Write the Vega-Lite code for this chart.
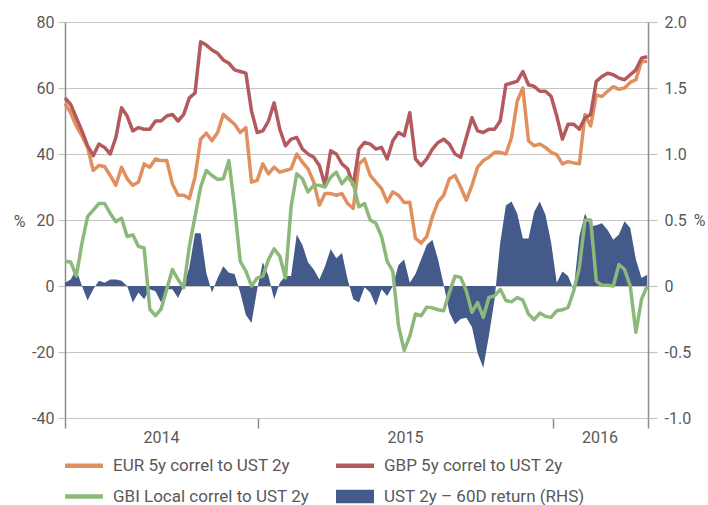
{
 "$schema": "https://vega.github.io/schema/vega-lite/v6.json",
 "width": 583, "height": 396,
 "autosize": {"type": "none"},
 "padding": {"left": 65, "top": 22, "right": 60, "bottom": 87},
 "background": "white",
 "config": {
  "view": {"stroke": null},
  "font": "Roboto",
  "axis": {"labelFont": "Roboto", "labelFontSize": 16, "labelColor": "#595959", "titleFont": "Roboto", "titleFontSize": 16, "titleColor": "#595959", "titleFontWeight": "normal", "labelFlush": false, "labelOverlap": false}
 },
 "data": {"values": [
  {"d":"2014-05-07","EUR":55.3,"GBP":57,"GBI":7.5,"UST":0.025},
  {"d":"2014-05-14","EUR":52.5,"GBP":55,"GBI":7.3,"UST":0.05},
  {"d":"2014-05-21","EUR":48.5,"GBP":51,"GBI":3,"UST":0.125},
  {"d":"2014-05-28","EUR":45.5,"GBP":47,"GBI":13,"UST":0},
  {"d":"2014-06-04","EUR":42,"GBP":42.5,"GBI":21,"UST":-0.11},
  {"d":"2014-06-11","EUR":35,"GBP":39.5,"GBI":23,"UST":-0.025},
  {"d":"2014-06-18","EUR":36.5,"GBP":43,"GBI":25,"UST":0.04},
  {"d":"2014-06-25","EUR":36.2,"GBP":42,"GBI":25,"UST":0.025},
  {"d":"2014-07-02","EUR":33.5,"GBP":40,"GBI":22,"UST":0.05},
  {"d":"2014-07-09","EUR":30.5,"GBP":45,"GBI":19.5,"UST":0.05},
  {"d":"2014-07-16","EUR":36,"GBP":54,"GBI":20.5,"UST":0.04},
  {"d":"2014-07-23","EUR":32.5,"GBP":51.5,"GBI":15,"UST":0},
  {"d":"2014-07-30","EUR":30.5,"GBP":47,"GBI":15.5,"UST":-0.125},
  {"d":"2014-08-06","EUR":31.5,"GBP":48,"GBI":12,"UST":-0.05},
  {"d":"2014-08-13","EUR":37,"GBP":47.5,"GBI":11.5,"UST":-0.1},
  {"d":"2014-08-20","EUR":36,"GBP":47.5,"GBI":-7,"UST":-0.025},
  {"d":"2014-08-27","EUR":38.5,"GBP":50,"GBI":-9,"UST":-0.04},
  {"d":"2014-09-03","EUR":38,"GBP":50,"GBI":-7,"UST":-0.125},
  {"d":"2014-09-10","EUR":38,"GBP":51.5,"GBI":-1,"UST":-0.025},
  {"d":"2014-09-17","EUR":31,"GBP":52,"GBI":5,"UST":-0.025},
  {"d":"2014-09-24","EUR":27.5,"GBP":50,"GBI":2,"UST":-0.09},
  {"d":"2014-10-01","EUR":27.5,"GBP":52,"GBI":-0.5,"UST":0},
  {"d":"2014-10-08","EUR":26.5,"GBP":57,"GBI":12,"UST":0.14},
  {"d":"2014-10-15","EUR":33,"GBP":58.5,"GBI":21,"UST":0.4},
  {"d":"2014-10-22","EUR":44.5,"GBP":74,"GBI":30,"UST":0.4},
  {"d":"2014-10-29","EUR":46.3,"GBP":73,"GBI":35,"UST":0.1},
  {"d":"2014-11-05","EUR":44,"GBP":71.5,"GBI":33.5,"UST":-0.05},
  {"d":"2014-11-12","EUR":46.5,"GBP":70.5,"GBI":32.3,"UST":0.06},
  {"d":"2014-11-19","EUR":52,"GBP":68.5,"GBI":32.5,"UST":0.15},
  {"d":"2014-11-26","EUR":50.5,"GBP":67.5,"GBI":38,"UST":0.1},
  {"d":"2014-12-03","EUR":49,"GBP":65.5,"GBI":24,"UST":0.09},
  {"d":"2014-12-10","EUR":46.5,"GBP":65,"GBI":7.5,"UST":-0.05},
  {"d":"2014-12-17","EUR":48,"GBP":64.5,"GBI":4.5,"UST":-0.22},
  {"d":"2014-12-24","EUR":31.5,"GBP":53,"GBI":0,"UST":-0.28},
  {"d":"2014-12-31","EUR":32,"GBP":46.5,"GBI":2.4,"UST":-0.025},
  {"d":"2015-01-07","EUR":37,"GBP":47,"GBI":3,"UST":0.18},
  {"d":"2015-01-14","EUR":34,"GBP":50,"GBI":8,"UST":0.075},
  {"d":"2015-01-21","EUR":36,"GBP":55.5,"GBI":11.3,"UST":-0.1},
  {"d":"2015-01-28","EUR":34.5,"GBP":47.5,"GBI":9,"UST":0.025},
  {"d":"2015-02-04","EUR":35,"GBP":42.5,"GBI":2.5,"UST":0.075},
  {"d":"2015-02-11","EUR":35.5,"GBP":44.5,"GBI":24,"UST":0.075},
  {"d":"2015-02-18","EUR":40,"GBP":45,"GBI":34,"UST":0.39},
  {"d":"2015-02-25","EUR":37.5,"GBP":41.5,"GBI":32.5,"UST":0.31},
  {"d":"2015-03-04","EUR":35.5,"GBP":40,"GBI":28.5,"UST":0.18},
  {"d":"2015-03-11","EUR":31.5,"GBP":39,"GBI":30.5,"UST":0.125},
  {"d":"2015-03-18","EUR":24.5,"GBP":36.5,"GBI":30.5,"UST":0.05},
  {"d":"2015-03-25","EUR":28,"GBP":30.5,"GBI":30,"UST":0.15},
  {"d":"2015-04-01","EUR":28,"GBP":41,"GBI":33,"UST":0.28},
  {"d":"2015-04-08","EUR":27.5,"GBP":40,"GBI":34.5,"UST":0.21},
  {"d":"2015-04-15","EUR":28,"GBP":37,"GBI":31,"UST":0.25},
  {"d":"2015-04-22","EUR":25,"GBP":35.5,"GBI":33,"UST":0.05},
  {"d":"2015-04-29","EUR":23.5,"GBP":30.5,"GBI":31,"UST":-0.1},
  {"d":"2015-05-06","EUR":37,"GBP":41.5,"GBI":24,"UST":-0.125},
  {"d":"2015-05-13","EUR":38.5,"GBP":43.5,"GBI":25,"UST":-0.01},
  {"d":"2015-05-20","EUR":33.5,"GBP":43,"GBI":20,"UST":-0.05},
  {"d":"2015-05-27","EUR":31.5,"GBP":41.5,"GBI":19,"UST":-0.15},
  {"d":"2015-06-03","EUR":29.5,"GBP":42,"GBI":15,"UST":-0.025},
  {"d":"2015-06-10","EUR":25.5,"GBP":38.5,"GBI":7.5,"UST":-0.075},
  {"d":"2015-06-17","EUR":28.5,"GBP":44,"GBI":4.4,"UST":0},
  {"d":"2015-06-24","EUR":27.5,"GBP":46.5,"GBI":-12,"UST":0.16},
  {"d":"2015-07-01","EUR":25.3,"GBP":45.5,"GBI":-19.5,"UST":0.2},
  {"d":"2015-07-08","EUR":25.4,"GBP":52.5,"GBI":-15.2,"UST":0.025},
  {"d":"2015-07-15","EUR":14.5,"GBP":38.5,"GBI":-8.5,"UST":0.09},
  {"d":"2015-07-22","EUR":13,"GBP":36.5,"GBI":-9,"UST":0.2},
  {"d":"2015-07-29","EUR":15,"GBP":38.5,"GBI":-6.4,"UST":0.31},
  {"d":"2015-08-05","EUR":21,"GBP":41.5,"GBI":-6.6,"UST":0.35},
  {"d":"2015-08-12","EUR":25.5,"GBP":43.5,"GBI":-7.2,"UST":0.2},
  {"d":"2015-08-19","EUR":27.5,"GBP":44.5,"GBI":-7.5,"UST":0.01},
  {"d":"2015-08-26","EUR":32.5,"GBP":43,"GBI":-2,"UST":-0.2},
  {"d":"2015-09-02","EUR":33.5,"GBP":40,"GBI":3,"UST":-0.29},
  {"d":"2015-09-09","EUR":30,"GBP":39,"GBI":2.6,"UST":-0.25},
  {"d":"2015-09-16","EUR":26,"GBP":45,"GBI":-1.5,"UST":-0.24},
  {"d":"2015-09-23","EUR":30.5,"GBP":51,"GBI":-8,"UST":-0.31},
  {"d":"2015-09-30","EUR":36,"GBP":47,"GBI":-5,"UST":-0.51},
  {"d":"2015-10-07","EUR":38,"GBP":46.5,"GBI":-9.5,"UST":-0.62},
  {"d":"2015-10-14","EUR":39,"GBP":47.5,"GBI":-3.5,"UST":-0.375},
  {"d":"2015-10-21","EUR":40.5,"GBP":47.5,"GBI":-3,"UST":-0.1},
  {"d":"2015-10-28","EUR":40.5,"GBP":50,"GBI":-1,"UST":0.33},
  {"d":"2015-11-04","EUR":40,"GBP":61,"GBI":-4.4,"UST":0.61},
  {"d":"2015-11-11","EUR":45,"GBP":61.5,"GBI":-4.8,"UST":0.64},
  {"d":"2015-11-18","EUR":56,"GBP":62,"GBI":-3.5,"UST":0.55},
  {"d":"2015-11-25","EUR":60,"GBP":65,"GBI":-4.3,"UST":0.36},
  {"d":"2015-12-02","EUR":44,"GBP":61,"GBI":-8.5,"UST":0.36},
  {"d":"2015-12-09","EUR":42.5,"GBP":60.5,"GBI":-10.2,"UST":0.56},
  {"d":"2015-12-16","EUR":43,"GBP":59,"GBI":-8.2,"UST":0.64},
  {"d":"2015-12-23","EUR":42,"GBP":59,"GBI":-9.2,"UST":0.54},
  {"d":"2015-12-30","EUR":40.5,"GBP":57.5,"GBI":-9.5,"UST":0.33},
  {"d":"2016-01-06","EUR":39.8,"GBP":51.5,"GBI":-7.5,"UST":0.025},
  {"d":"2016-01-13","EUR":37,"GBP":44.5,"GBI":-7.2,"UST":0.11},
  {"d":"2016-01-20","EUR":37.7,"GBP":49,"GBI":-6.5,"UST":0.075},
  {"d":"2016-01-27","EUR":37.3,"GBP":49,"GBI":-1.5,"UST":-0.03},
  {"d":"2016-02-03","EUR":37,"GBP":47.5,"GBI":5.5,"UST":0.375},
  {"d":"2016-02-10","EUR":52,"GBP":51,"GBI":20,"UST":0.55},
  {"d":"2016-02-17","EUR":48.5,"GBP":52,"GBI":20,"UST":0.45},
  {"d":"2016-02-24","EUR":57.9,"GBP":62,"GBI":1.5,"UST":0.46},
  {"d":"2016-03-02","EUR":57.4,"GBP":63.5,"GBI":0.2,"UST":0.475},
  {"d":"2016-03-09","EUR":59,"GBP":64.5,"GBI":0.2,"UST":0.425},
  {"d":"2016-03-16","EUR":60.4,"GBP":64,"GBI":0,"UST":0.35},
  {"d":"2016-03-23","EUR":59.6,"GBP":63,"GBI":6.5,"UST":0.39},
  {"d":"2016-03-30","EUR":60,"GBP":62.5,"GBI":5,"UST":0.49},
  {"d":"2016-04-06","EUR":61.7,"GBP":64,"GBI":0,"UST":0.44},
  {"d":"2016-04-13","EUR":62.5,"GBP":65.5,"GBI":-14,"UST":0.2},
  {"d":"2016-04-20","EUR":68,"GBP":69,"GBI":-4,"UST":0.06},
  {"d":"2016-04-27","EUR":68,"GBP":69.5,"GBI":0,"UST":0.085}
 ]},
 "encoding": {
  "x": {
   "field": "d", "type": "temporal",
   "scale": {"type": "utc", "nice": false, "domain": [{"year": 2014, "month": 5, "date": 7, "utc": true}, {"year": 2016, "month": 4, "date": 28, "utc": true}]},
   "axis": {
    "title": null, "grid": false,
    "values": [
     {"year": 2014, "month": 5, "date": 7, "utc": true},
     {"year": 2014, "month": 9, "date": 3, "utc": true},
     {"year": 2015, "month": 1, "date": 1, "utc": true},
     {"year": 2015, "month": 7, "date": 2, "utc": true},
     {"year": 2016, "month": 1, "date": 1, "utc": true},
     {"year": 2016, "month": 2, "date": 28, "utc": true},
     {"year": 2016, "month": 4, "date": 28, "utc": true}
    ],
    "labelExpr": "indexof(['09-03','07-02','02-28'], utcFormat(datum.value, '%m-%d')) >= 0 ? utcFormat(datum.value, '%Y') : ''",
    "tickOpacity": {"condition": {"test": "indexof(['09-03','07-02','02-28'], utcFormat(datum.value, '%m-%d')) < 0", "value": 1}, "value": 0},
    "tickSize": 10, "tickColor": "#8c8c8c", "tickWidth": 1.5,
    "labelPadding": 1, "domainColor": "#c4c4c4", "domainWidth": 1.2
   }
  }
 },
 "layer": [
  {
   "mark": {"type": "area", "opacity": 1, "interpolate": "linear"},
   "encoding": {
    "y": {"field": "UST", "type": "quantitative", "stack": null,
     "scale": {"domain": [-1, 2], "nice": false},
     "axis": {"orient": "right", "values": [-1, -0.5, 0, 0.5, 1, 1.5, 2],
      "labelExpr": "datum.value == 0 ? '0' : replace(format(datum.value, '.1f'), '\u2212', '-')",
      "grid": false, "tickSize": 9, "tickColor": "#c4c4c4", "tickWidth": 1.2, "labelPadding": 7,
      "domainColor": "#8c8c8c", "domainWidth": 1.5,
      "title": "%", "titleAngle": 0, "titleX": 51, "titleY": 198, "titleAlign": "center", "titleBaseline": "middle"}},
    "color": {"datum": "UST", "type": "nominal",
     "scale": {"domain": ["EUR", "GBP", "GBI", "UST"], "range": ["#E0905E", "#B45A5E", "#8CB87A", "#435A8A"]}}
   }
  },
  {
   "transform": [{"fold": ["EUR", "GBP", "GBI"], "as": ["series", "val"]}],
   "mark": {"type": "line", "strokeWidth": 3.5, "strokeJoin": "round"},
   "encoding": {
    "y": {"field": "val", "type": "quantitative",
     "scale": {"domain": [-40, 80], "nice": false},
     "axis": {"orient": "left", "values": [-40, -20, 0, 20, 40, 60, 80],
      "labelExpr": "datum.value + ''",
      "grid": true, "gridColor": "#c4c4c4", "gridWidth": 1.2,
      "tickSize": 7, "tickColor": "#c4c4c4", "tickWidth": 1.2, "labelPadding": 4,
      "domainColor": "#8c8c8c", "domainWidth": 1.5,
      "title": "%", "titleAngle": 0, "titleX": -46, "titleY": 199, "titleAlign": "center", "titleBaseline": "middle"}},
    "color": {"field": "series", "type": "nominal",
     "scale": {"domain": ["EUR", "GBP", "GBI", "UST"], "range": ["#E0905E", "#B45A5E", "#8CB87A", "#435A8A"]},
     "legend": {
      "orient": "none", "legendX": 1, "legendY": 435, "columns": 2, "direction": "horizontal", "title": null, "padding": 0,
      "symbolSize": 361, "labelOffset": 30, "rowPadding": 12, "columnPadding": 17,
      "labelFont": "Roboto", "labelFontSize": 17, "labelColor": "#595959", "labelLimit": 400,
      "labelExpr": "datum.label == 'EUR' ? 'EUR 5y correl to UST 2y' : datum.label == 'GBP' ? 'GBP 5y correl to UST 2y' : datum.label == 'GBI' ? 'GBI Local correl to UST 2y' : 'UST 2y \u2013 60D return (RHS)'",
      "encode": {"symbols": {"update": {
       "shape": {"signal": "datum.value == 'UST' ? 'M-1,-0.7H3V0.7H-1Z' : 'M-1,0H3'"},
       "fill": {"signal": "datum.value == 'UST' ? scale('color', datum.value) : 'transparent'"},
       "stroke": {"signal": "scale('color', datum.value)"},
       "strokeWidth": {"signal": "datum.value == 'UST' ? 0 : 4.5"},
       "opacity": {"value": 1}
      }}}
     }}
   }
  }
 ],
 "resolve": {"scale": {"y": "independent"}}
}
